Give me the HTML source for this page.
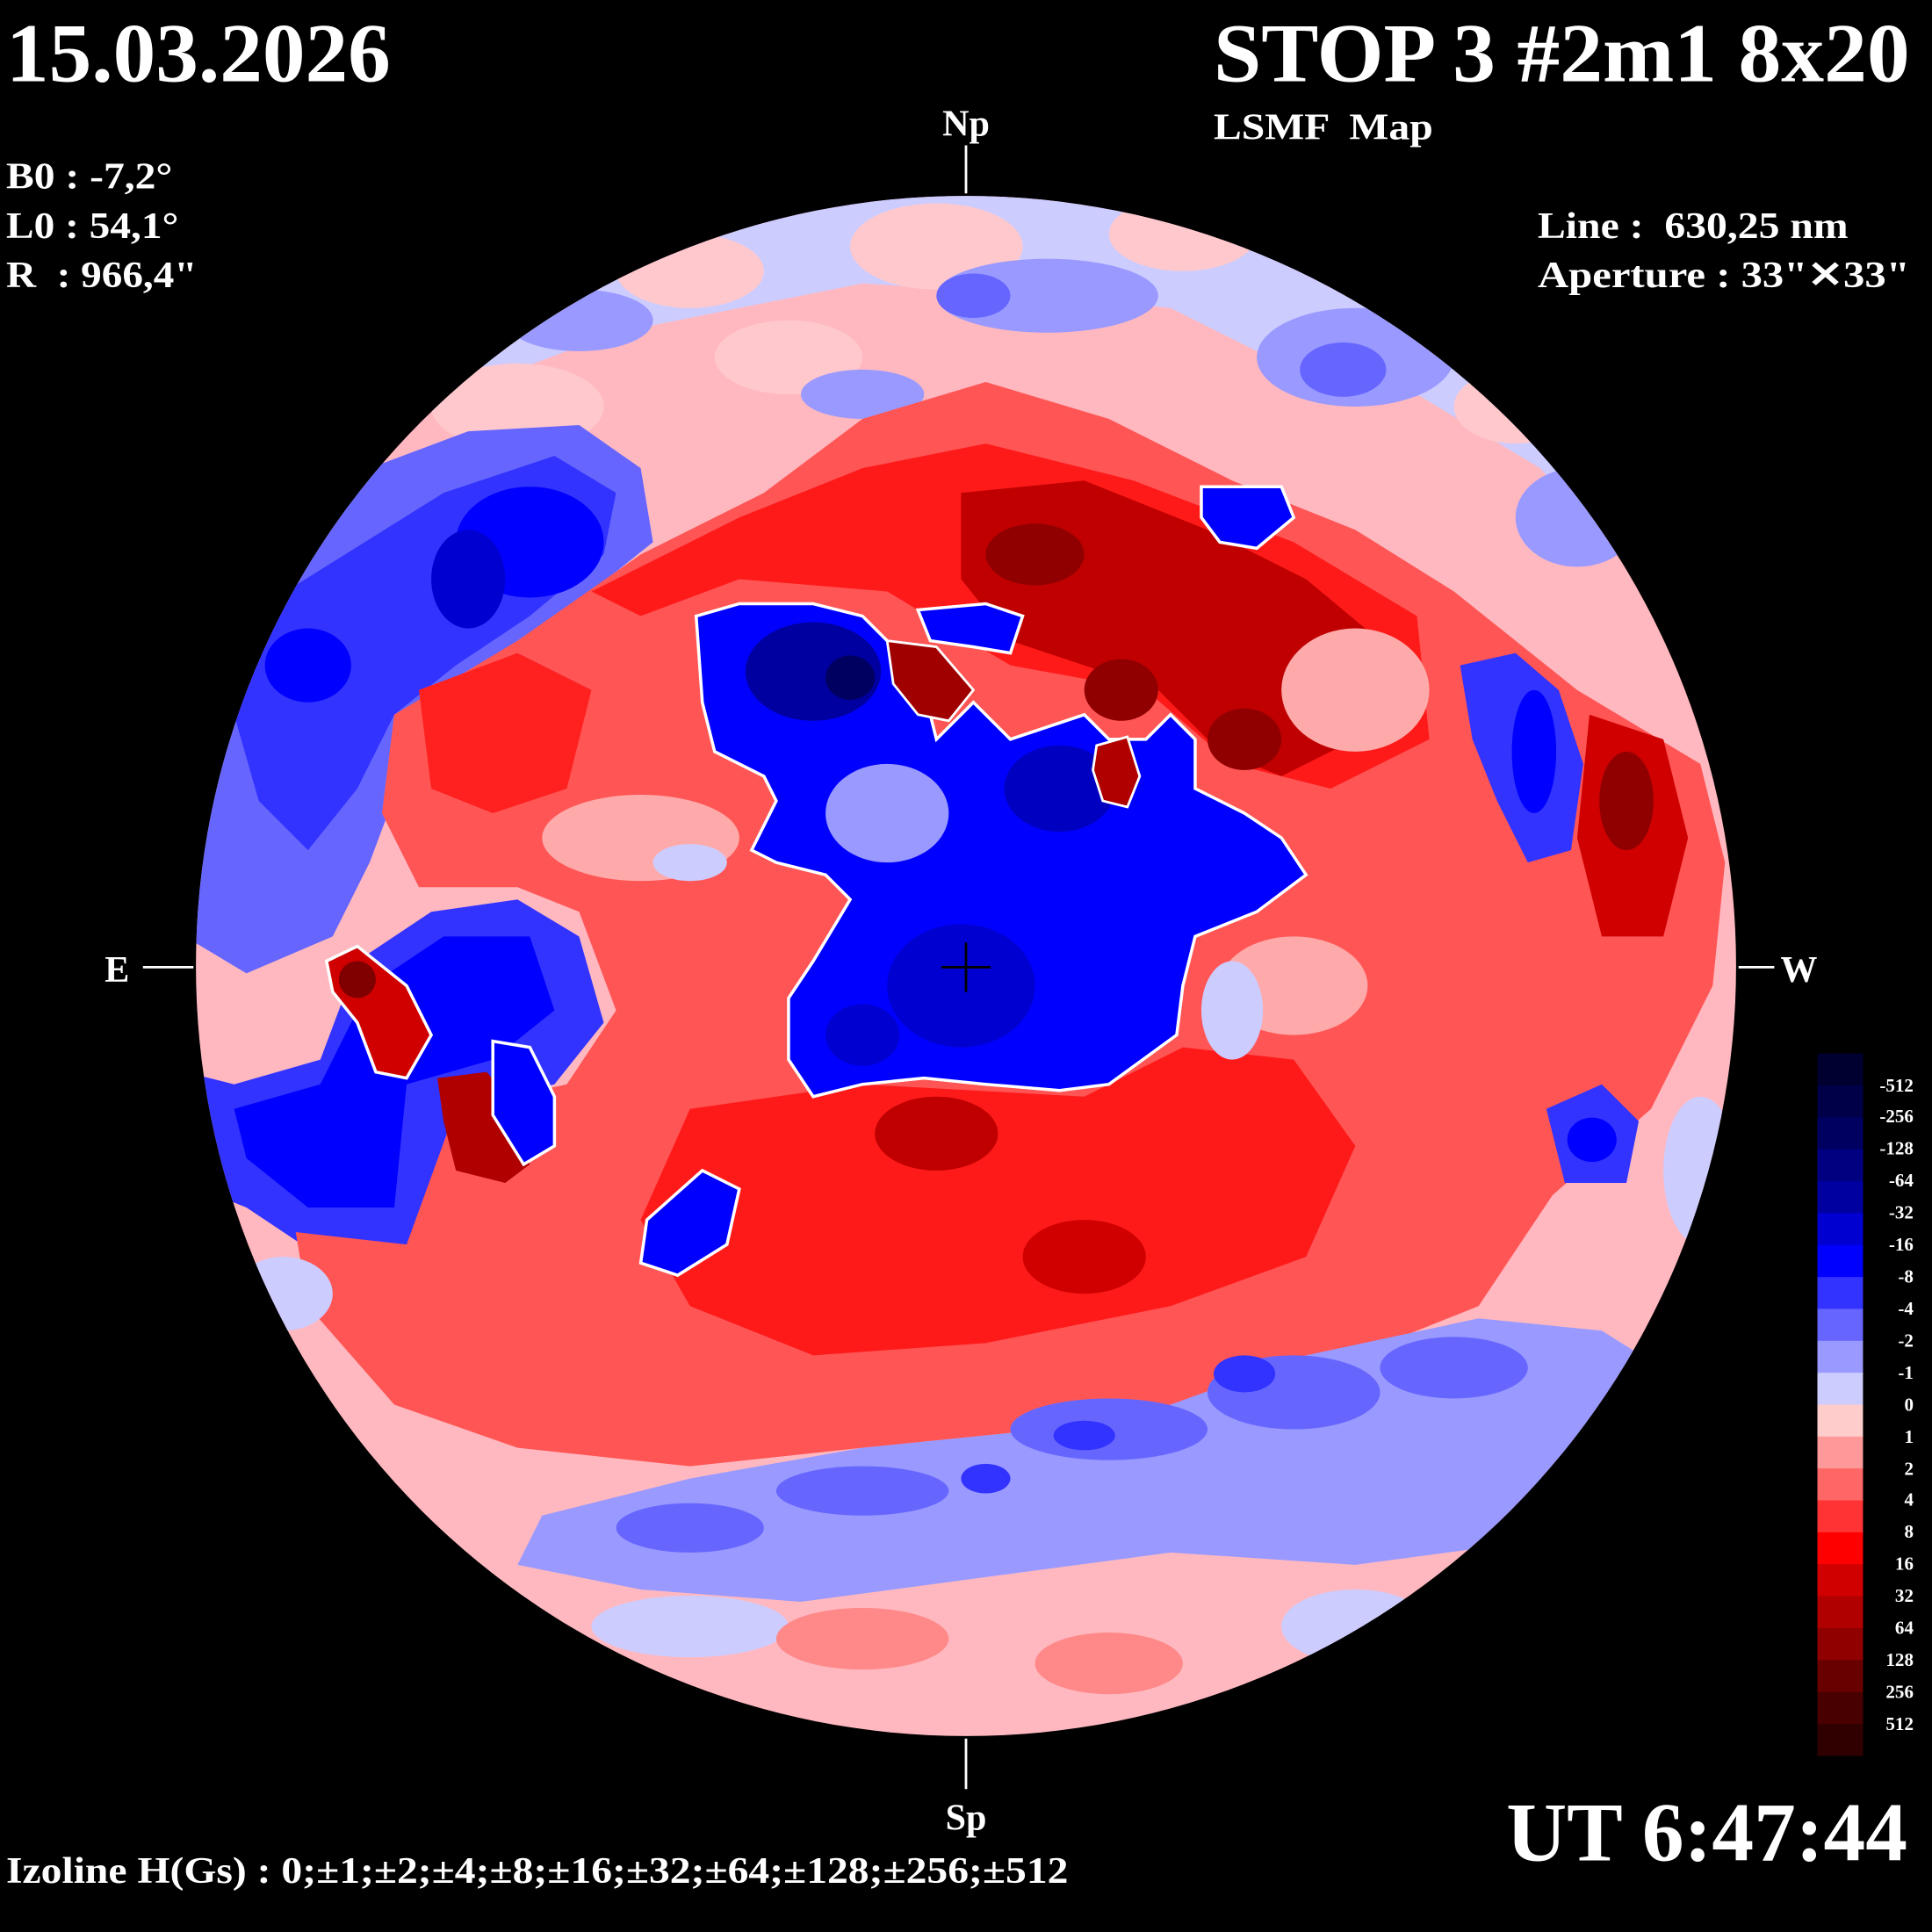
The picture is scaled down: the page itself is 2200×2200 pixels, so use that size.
<!DOCTYPE html>
<html><head><meta charset="utf-8"><style>
html,body{margin:0;padding:0;background:#000;}
svg{display:block;}
text{font-family:"Liberation Serif",serif;font-weight:bold;fill:#fff;}
</style></head><body>
<svg width="2200" height="2200" viewBox="0 0 1568 1568" xmlns="http://www.w3.org/2000/svg">
<rect width="1568" height="1568" fill="#000"/>
<defs><clipPath id="d"><circle cx="784" cy="784" r="625"/></clipPath></defs>
<g clip-path="url(#d)">
<rect x="150" y="150" width="1270" height="1270" fill="#ffb8c0"/>
<path d="M150 150 H1420 V500 L1330 470 L1250 380 L1150 320 L1050 300 L950 250 L850 240 L700 230 L600 250 L500 270 L420 300 L330 340 L250 420 L150 470Z" fill="#ccccff"/>
<g fill="#ffc8cc">
<ellipse cx="560" cy="220" rx="60" ry="30"/><ellipse cx="760" cy="200" rx="70" ry="35"/><ellipse cx="960" cy="190" rx="60" ry="30"/><ellipse cx="420" cy="330" rx="70" ry="35"/><ellipse cx="640" cy="290" rx="60" ry="30"/><ellipse cx="1150" cy="220" rx="50" ry="30"/><ellipse cx="1230" cy="330" rx="50" ry="30"/>
</g>
<g fill="#9999ff">
<ellipse cx="850" cy="240" rx="90" ry="30"/><ellipse cx="1100" cy="290" rx="80" ry="40"/><ellipse cx="470" cy="260" rx="60" ry="25"/><ellipse cx="1280" cy="420" rx="50" ry="40"/><ellipse cx="700" cy="320" rx="50" ry="20"/>
</g>
<g fill="#6666ff"><ellipse cx="790" cy="240" rx="30" ry="18"/><ellipse cx="1090" cy="300" rx="35" ry="22"/></g>
<path d="M150 470 L230 420 L300 380 L380 350 L470 345 L520 380 L530 440 L480 480 L420 520 L380 570 L330 620 L300 700 L270 760 L200 790 L150 760Z" fill="#6666ff"/>
<path d="M200 500 L280 450 L360 400 L450 370 L500 400 L490 450 L430 500 L370 540 L320 580 L290 640 L250 690 L210 650 L190 580Z" fill="#3333ff"/>
<ellipse cx="430" cy="440" rx="60" ry="45" fill="#0000ff"/><ellipse cx="250" cy="540" rx="35" ry="30" fill="#0000ff"/><ellipse cx="380" cy="470" rx="30" ry="40" fill="#0000d0"/>
<path d="M150 870 L190 880 L260 860 L290 780 L350 740 L420 730 L470 760 L490 830 L450 880 L370 900 L350 1010 L260 1020 L200 980 L150 960Z" fill="#3333ff"/>
<path d="M190 900 L260 880 L300 800 L360 760 L430 760 L450 820 L400 860 L330 880 L320 980 L250 980 L200 940Z" fill="#0000ff"/>
<path d="M320 580 L420 520 L520 450 L620 400 L700 340 L800 310 L900 340 L1000 390 L1100 430 L1180 480 L1280 560 L1380 620 L1400 700 L1390 800 L1340 900 L1260 970 L1200 1060 L1100 1100 L950 1140 L850 1160 L700 1175 L560 1190 L420 1175 L320 1140 L250 1060 L240 1000 L330 1010 L370 900 L460 880 L500 820 L470 740 L420 720 L340 720 L310 660Z" fill="#ff5555"/>
<path d="M480 480 L600 420 L700 380 L800 360 L920 390 L1050 440 L1150 500 L1160 600 L1080 640 L1000 620 L930 560 L820 540 L720 480 L600 470 L520 500Z" fill="#ff1a1a"/>
<path d="M780 400 L880 390 L980 430 L1060 470 L1120 520 L1100 600 L1040 630 L990 610 L940 560 L880 540 L820 520 L780 470Z" fill="#c00000"/>
<ellipse cx="840" cy="450" rx="40" ry="25" fill="#900000"/><ellipse cx="1010" cy="600" rx="30" ry="25" fill="#900000"/><ellipse cx="910" cy="560" rx="30" ry="25" fill="#900000"/>
<path d="M560 900 L700 880 L880 890 L960 850 L1050 860 L1100 930 L1060 1020 L950 1060 L800 1090 L660 1100 L560 1060 L520 990Z" fill="#ff1a1a"/>
<ellipse cx="760" cy="920" rx="50" ry="30" fill="#c00000"/><ellipse cx="880" cy="1020" rx="50" ry="30" fill="#d00000"/>
<path d="M1290 580 L1350 600 L1370 680 L1350 760 L1300 760 L1280 680Z" fill="#d00000"/>
<ellipse cx="1320" cy="650" rx="22" ry="40" fill="#900000"/>
<path d="M340 560 L420 530 L480 560 L460 640 L400 660 L350 640Z" fill="#ff2020"/>
<g fill="#ffaaaa"><ellipse cx="520" cy="680" rx="80" ry="35"/><ellipse cx="1100" cy="560" rx="60" ry="50"/><ellipse cx="1050" cy="800" rx="60" ry="40"/></g>
<g fill="#ccccff"><ellipse cx="720" cy="670" rx="70" ry="45"/><ellipse cx="1000" cy="820" rx="25" ry="40"/><ellipse cx="560" cy="700" rx="30" ry="15"/></g>
<path d="M440 1230 L560 1200 L700 1175 L850 1160 L950 1140 L1060 1100 L1200 1070 L1300 1080 L1380 1130 L1320 1200 L1250 1250 L1100 1270 L950 1260 L800 1280 L650 1300 L520 1290 L420 1270Z" fill="#9999ff"/>
<g fill="#6666ff"><ellipse cx="900" cy="1160" rx="80" ry="25"/><ellipse cx="1050" cy="1130" rx="70" ry="30"/><ellipse cx="1180" cy="1110" rx="60" ry="25"/><ellipse cx="700" cy="1210" rx="70" ry="20"/><ellipse cx="560" cy="1240" rx="60" ry="20"/></g>
<g fill="#3333ff"><ellipse cx="1010" cy="1115" rx="25" ry="15"/><ellipse cx="880" cy="1165" rx="25" ry="12"/><ellipse cx="800" cy="1200" rx="20" ry="12"/></g>
<g fill="#ccccff"><ellipse cx="560" cy="1320" rx="80" ry="25"/><ellipse cx="1100" cy="1320" rx="60" ry="30"/><ellipse cx="230" cy="1050" rx="40" ry="30"/><ellipse cx="1380" cy="950" rx="30" ry="60"/></g>
<g fill="#ff8888"><ellipse cx="700" cy="1330" rx="70" ry="25"/><ellipse cx="900" cy="1350" rx="60" ry="25"/></g>
<path d="M1185 540 L1230 530 L1265 560 L1285 620 L1275 690 L1240 700 L1215 650 L1195 600Z" fill="#3333ff"/>
<ellipse cx="1245" cy="610" rx="18" ry="50" fill="#0000ff"/>
<path d="M1255 900 L1300 880 L1330 910 L1320 960 L1270 960Z" fill="#3333ff"/>
<ellipse cx="1292" cy="925" rx="20" ry="18" fill="#0000ff"/>
<path d="M975 395 L1040 395 L1050 420 L1020 445 L990 440 L975 420Z" fill="#0000ff" stroke="#fff" stroke-width="2.5"/>
<path d="M565 500 L600 490 L660 490 L700 500 L720 520 L750 560 L760 600 L790 570 L820 600 L850 590 L880 580 L900 600 L930 600 L950 580 L970 600 L970 640 L1010 660 L1040 680 L1060 710 L1020 740 L970 760 L960 800 L955 840 L900 880 L860 885 L800 880 L750 875 L700 880 L660 890 L640 860 L640 810 L660 780 L690 730 L670 710 L630 700 L610 690 L630 650 L620 630 L580 610 L570 570Z" fill="#0000ff" stroke="#fff" stroke-width="2.5"/>
<ellipse cx="720" cy="660" rx="50" ry="40" fill="#9999ff"/>
<ellipse cx="660" cy="545" rx="55" ry="40" fill="#0000a0"/><ellipse cx="690" cy="550" rx="20" ry="18" fill="#000060"/>
<ellipse cx="860" cy="640" rx="45" ry="35" fill="#0000c0"/>
<ellipse cx="780" cy="800" rx="60" ry="50" fill="#0000d0"/><ellipse cx="700" cy="840" rx="30" ry="25" fill="#0000d0"/>
<path d="M720 520 L760 525 L790 560 L770 585 L745 580 L725 555Z" fill="#a00000" stroke="#fff" stroke-width="2"/>
<path d="M745 495 L800 490 L830 500 L820 530 L790 525 L755 520Z" fill="#0000ff" stroke="#fff" stroke-width="2.5"/>
<path d="M890 605 L915 598 L925 630 L915 655 L895 650 L887 625Z" fill="#b00000" stroke="#fff" stroke-width="2"/>
<path d="M525 990 L570 950 L600 965 L590 1010 L550 1035 L520 1025Z" fill="#0000ff" stroke="#fff" stroke-width="2.5"/>
<path d="M265 780 L290 768 L330 800 L350 840 L330 875 L305 870 L290 830 L270 805Z" fill="#d00000" stroke="#fff" stroke-width="2.5"/>
<ellipse cx="290" cy="795" rx="15" ry="15" fill="#800000"/>
<path d="M355 875 L395 870 L420 900 L430 945 L410 960 L370 950 L360 910Z" fill="#b00000"/>
<path d="M400 845 L430 850 L450 890 L450 930 L425 945 L400 905Z" fill="#0000ff" stroke="#fff" stroke-width="2.5"/>
</g>
<path d="M764 785 H804 M784 765 V805" stroke="#000" stroke-width="2"/>
<path d="M784 118 V157 M784 1411 V1452 M116 785 H157 M1411 785 H1440" stroke="#fff" stroke-width="2"/>
<text x="784" y="110" font-size="30" text-anchor="middle">Np</text>
<text x="784" y="1485" font-size="30" text-anchor="middle">Sp</text>
<text x="95" y="797" font-size="30" text-anchor="middle">E</text>
<text x="1460" y="797" font-size="30" text-anchor="middle">W</text>
<text x="5" y="66" font-size="68" textLength="312" lengthAdjust="spacingAndGlyphs">15.03.2026</text>
<text x="985" y="66" font-size="68" textLength="565" lengthAdjust="spacingAndGlyphs">STOP 3 #2m1 8x20</text>
<text x="985" y="113" font-size="30" textLength="178" lengthAdjust="spacingAndGlyphs" xml:space="preserve">LSMF  Map</text>
<text x="5" y="153" font-size="30" textLength="135" lengthAdjust="spacingAndGlyphs">B0 : -7,2°</text>
<text x="5" y="193" font-size="30" textLength="140" lengthAdjust="spacingAndGlyphs">L0 : 54,1°</text>
<text x="5" y="233" font-size="30" textLength="155" lengthAdjust="spacingAndGlyphs" xml:space="preserve">R  : 966,4"</text>
<text x="1248" y="193" font-size="30" textLength="252" lengthAdjust="spacingAndGlyphs" xml:space="preserve">Line :  630,25 nm</text>
<text x="1248" y="233" font-size="30" textLength="302" lengthAdjust="spacingAndGlyphs">Aperture : 33"✕33"</text>
<text x="5" y="1528" font-size="30" textLength="862" lengthAdjust="spacingAndGlyphs">Izoline H(Gs) : 0;±1;±2;±4;±8;±16;±32;±64;±128;±256;±512</text>
<text x="1548" y="1510" font-size="68" text-anchor="end">UT 6:47:44</text>
<g>
<rect x="1475" y="855.0" width="37" height="26.3" fill="#000030"/>
<rect x="1475" y="880.9" width="37" height="26.3" fill="#000048"/>
<rect x="1475" y="906.8" width="37" height="26.3" fill="#000060"/>
<rect x="1475" y="932.7" width="37" height="26.3" fill="#000080"/>
<rect x="1475" y="958.6" width="37" height="26.3" fill="#0000a0"/>
<rect x="1475" y="984.5" width="37" height="26.3" fill="#0000d0"/>
<rect x="1475" y="1010.5" width="37" height="26.3" fill="#0000ff"/>
<rect x="1475" y="1036.4" width="37" height="26.3" fill="#3333ff"/>
<rect x="1475" y="1062.3" width="37" height="26.3" fill="#6666ff"/>
<rect x="1475" y="1088.2" width="37" height="26.3" fill="#9999ff"/>
<rect x="1475" y="1114.1" width="37" height="26.3" fill="#ccccff"/>
<rect x="1475" y="1140.0" width="37" height="26.3" fill="#ffcccc"/>
<rect x="1475" y="1165.9" width="37" height="26.3" fill="#ff9999"/>
<rect x="1475" y="1191.8" width="37" height="26.3" fill="#ff6666"/>
<rect x="1475" y="1217.7" width="37" height="26.3" fill="#ff3333"/>
<rect x="1475" y="1243.6" width="37" height="26.3" fill="#ff0000"/>
<rect x="1475" y="1269.5" width="37" height="26.3" fill="#d00000"/>
<rect x="1475" y="1295.5" width="37" height="26.3" fill="#b00000"/>
<rect x="1475" y="1321.4" width="37" height="26.3" fill="#900000"/>
<rect x="1475" y="1347.3" width="37" height="26.3" fill="#680000"/>
<rect x="1475" y="1373.2" width="37" height="26.3" fill="#480000"/>
<rect x="1475" y="1399.1" width="37" height="25.9" fill="#300000"/>
</g>
<g font-size="15" text-anchor="end">
<text x="1553" y="886">-512</text><text x="1553" y="911">-256</text><text x="1553" y="937">-128</text><text x="1553" y="963">-64</text><text x="1553" y="989">-32</text><text x="1553" y="1015">-16</text><text x="1553" y="1041">-8</text><text x="1553" y="1067">-4</text><text x="1553" y="1093">-2</text><text x="1553" y="1119">-1</text><text x="1553" y="1145">0</text><text x="1553" y="1171">1</text><text x="1553" y="1197">2</text><text x="1553" y="1222">4</text><text x="1553" y="1248">8</text><text x="1553" y="1274">16</text><text x="1553" y="1300">32</text><text x="1553" y="1326">64</text><text x="1553" y="1352">128</text><text x="1553" y="1378">256</text><text x="1553" y="1404">512</text>
</g>
</svg>
</body></html>
